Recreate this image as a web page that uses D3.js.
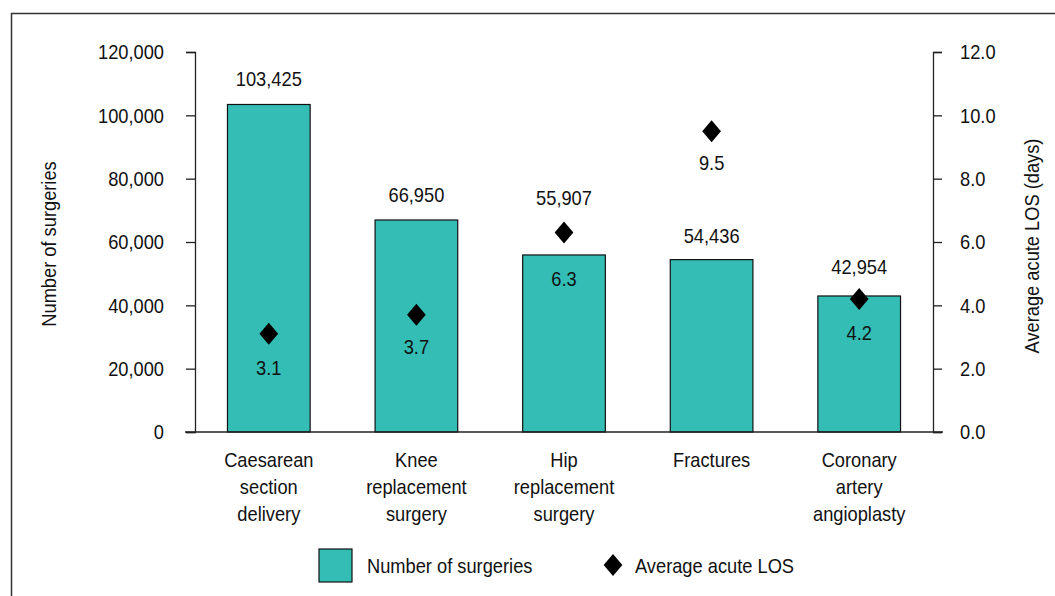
<!DOCTYPE html>
<html>
<head>
<meta charset="utf-8">
<script src="https://cdn.jsdelivr.net/npm/d3@7"></script>
<style>
  body { margin: 0; background: #fff; }
  text { font-family: "Liberation Sans", Arial, sans-serif; fill: #111; }
</style>
</head>
<body>
<div id="chart"></div>
<script>
const WIDTH = 1055;
const HEIGHT = 596;

const categories = [
    ['Caesarean', 'section', 'delivery'],
    ['Knee', 'replacement', 'surgery'],
    ['Hip', 'replacement', 'surgery'],
    ['Fractures'],
    ['Coronary', 'artery', 'angioplasty']
];
const surgeries = [103425, 66950, 55907, 54436, 42954];
const avgLOS = [3.1, 3.7, 6.3, 9.5, 4.2];
const leftTicks = [0, 20000, 40000, 60000, 80000, 100000, 120000];
const rightTicks = [0, 2, 4, 6, 8, 10, 12];

// label gaps (px) so labels clear the markers, as in the original
const barLabelGap = [18, 18, 50, 17, 22];
const losLabelGap = [41, 39, 53, 39, 41];

const PLOT = {left: 195, right: 933, top: 52, bottom: 432};
const BAR_COLOR = '#33bdb5';
const FONT = 21;
const SX = 0.87;   // horizontal squeeze to mimic the narrow face

let svg = d3.select('#chart').append('svg')
    .attr('width', WIDTH)
    .attr('height', HEIGHT);

// text placed at (x,y), optionally rotated, squeezed horizontally
function label(x, y, str, anchor, rot) {
    return svg.append('text')
        .attr('transform', 'translate(' + x + ',' + y + ')' + (rot ? ' rotate(' + rot + ')' : '') + ' scale(' + SX + ',1)')
        .attr('text-anchor', anchor || 'middle')
        .style('font-size', FONT + 'px')
        .text(str);
}

// outer frame
svg.append('rect')
    .attr('x', 11.5).attr('y', 13.5)
    .attr('width', WIDTH).attr('height', HEIGHT)
    .attr('fill', 'none')
    .attr('stroke', '#333')
    .attr('stroke-width', 1.5);

let x = d3.scaleBand()
    .domain(d3.range(categories.length))
    .range([PLOT.left, PLOT.right])
    .paddingInner(0.44)
    .paddingOuter(0.22);

let yL = d3.scaleLinear().domain([0, 120000]).range([PLOT.bottom, PLOT.top]);
let yR = d3.scaleLinear().domain([0, 12]).range([PLOT.bottom, PLOT.top]);
let cx = i => x(i) + x.bandwidth() / 2;

// bars
svg.selectAll('rect.bar')
    .data(surgeries)
    .enter().append('rect')
    .attr('class', 'bar')
    .attr('x', (d, i) => x(i))
    .attr('y', d => yL(d))
    .attr('width', x.bandwidth())
    .attr('height', d => yL(0) - yL(d))
    .attr('fill', BAR_COLOR)
    .attr('stroke', '#111')
    .attr('stroke-width', 1.2);

// bar value labels
surgeries.forEach((d, i) => label(cx(i), yL(d) - barLabelGap[i], d3.format(',')(d)));

// axes
let leftAxis = svg.append('g')
    .attr('transform', 'translate(' + PLOT.left + ',0)')
    .call(d3.axisLeft(yL).tickValues(leftTicks).tickFormat(d3.format(',')).tickSize(9).tickPadding(22));

let rightAxis = svg.append('g')
    .attr('transform', 'translate(' + PLOT.right + ',0)')
    .call(d3.axisRight(yR).tickValues(rightTicks).tickFormat(d3.format('.1f')).tickSize(9).tickPadding(18));

[leftAxis, rightAxis].forEach(g => {
    g.select('.domain').attr('stroke', '#222').attr('stroke-width', 1.3);
    g.selectAll('.tick line').attr('stroke', '#222').attr('stroke-width', 1.3);
    g.selectAll('.tick text')
        .style('font-size', FONT + 'px')
        .attr('fill', '#111')
        .attr('x', function() { return +d3.select(this).attr('x') / SX; })
        .attr('transform', 'scale(' + SX + ',1)');
});

// x baseline
svg.append('line')
    .attr('x1', PLOT.left - 10).attr('x2', PLOT.right + 10)
    .attr('y1', PLOT.bottom).attr('y2', PLOT.bottom)
    .attr('stroke', '#222')
    .attr('stroke-width', 1.5);

// category labels
categories.forEach((lines, i) => {
    lines.forEach((line, j) => label(cx(i), 467 + j * 27, line));
});

// diamonds
let diamond = d3.symbol().type(d3.symbolDiamond).size(140);
svg.selectAll('path.los')
    .data(avgLOS)
    .enter().append('path')
    .attr('class', 'los')
    .attr('d', diamond)
    .attr('transform', (d, i) => 'translate(' + cx(i) + ',' + yR(d) + ') scale(1.47,1)')
    .attr('fill', '#000');

avgLOS.forEach((d, i) => label(cx(i), yR(d) + losLabelGap[i], d3.format('.1f')(d)));

// axis titles
label(56, 244, 'Number of surgeries', 'middle', -90);
label(1039, 246, 'Average acute LOS (days)', 'middle', -90);

// legend
svg.append('rect')
    .attr('x', 319).attr('y', 549)
    .attr('width', 33).attr('height', 33)
    .attr('fill', BAR_COLOR)
    .attr('stroke', '#111')
    .attr('stroke-width', 1.2);
label(367, 573, 'Number of surgeries', 'start');

svg.append('path')
    .attr('d', diamond)
    .attr('transform', 'translate(613,565) scale(1.47,1)')
    .attr('fill', '#000');
label(635, 573, 'Average acute LOS', 'start');
</script>
</body>
</html>
